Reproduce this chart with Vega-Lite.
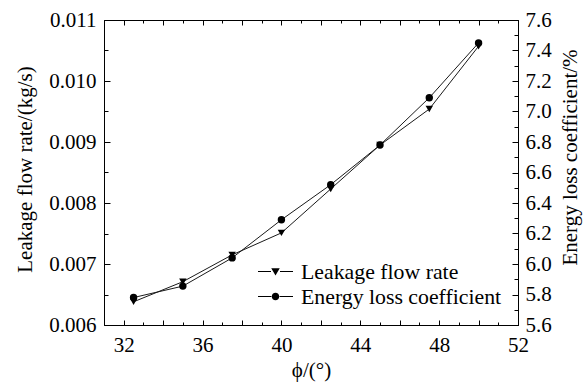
{
  "$schema": "https://vega.github.io/schema/vega-lite/v6.json",
  "width": 414,
  "height": 305,
  "autosize": {"type": "none"},
  "padding": {"left": 104, "top": 20, "right": 66, "bottom": 65},
  "background": "white",
  "config": {
    "view": {"stroke": "black", "strokeWidth": 1},
    "axis": {
      "grid": false,
      "labelFont": "Liberation Serif",
      "titleFont": "Liberation Serif",
      "labelFontSize": 21,
      "titleFontSize": 21,
      "titleFontWeight": "normal",
      "labelColor": "black",
      "titleColor": "black",
      "domainColor": "black",
      "tickColor": "black",
      "domainWidth": 1,
      "tickWidth": 1,
      "labelOverlap": false,
      "labelFlush": false
    }
  },
  "data": {
    "values": [
      {"phi": 32.5, "leakage": 0.00638, "energy": 5.78},
      {"phi": 35.0, "leakage": 0.00671, "energy": 5.855},
      {"phi": 37.5, "leakage": 0.00715, "energy": 6.04},
      {"phi": 40.0, "leakage": 0.00751, "energy": 6.29},
      {"phi": 42.5, "leakage": 0.00823, "energy": 6.52},
      {"phi": 45.0, "leakage": 0.00895, "energy": 6.78},
      {"phi": 47.5, "leakage": 0.00954, "energy": 7.09},
      {"phi": 50.0, "leakage": 0.01057, "energy": 7.45}
    ]
  },
  "layer": [
    {
      "mark": {"type": "line", "color": "#1a1a1a", "strokeWidth": 1},
      "encoding": {
        "x": {
          "field": "phi", "type": "quantitative",
          "scale": {"domain": [31, 52], "nice": false, "zero": false},
          "axis": {
            "orient": "bottom",
            "title": "ϕ/(°)",
            "values": [32,33,34,35,36,37,38,39,40,41,42,43,44,45,46,47,48,49,50,51,52],
            "labelExpr": "datum.value % 4 == 0 ? datum.label : ''",
            "tickSize": {"condition": {"test": "datum.value % 2 == 0", "value": -5}, "value": -3},
            "labelPadding": 14,
            "titlePadding": 2
          }
        },
        "y": {
          "field": "leakage", "type": "quantitative",
          "scale": {"domain": [0.006, 0.011], "nice": false, "zero": false},
          "axis": {
            "orient": "left",
            "title": "Leakage flow rate/(kg/s)",
            "titleY": 149,
            "values": [0.006,0.0065,0.007,0.0075,0.008,0.0085,0.009,0.0095,0.01,0.0105,0.011],
            "labelExpr": "abs(datum.value*1000 - round(datum.value*1000)) < 0.01 ? format(datum.value, '.3f') : ''",
            "tickSize": {"condition": {"test": "abs(datum.value*1000 - round(datum.value*1000)) < 0.01", "value": -6}, "value": -4},
            "labelPadding": 14,
            "titlePadding": 13
          }
        }
      }
    },
    {
      "mark": {"type": "point", "filled": true, "color": "black", "size": 55, "opacity": 1, "shape": "triangle-down"},
      "encoding": {
        "x": {"field": "phi", "type": "quantitative", "scale": {"domain": [31, 52], "nice": false, "zero": false}, "axis": null},
        "y": {"field": "leakage", "type": "quantitative", "scale": {"domain": [0.006, 0.011], "nice": false, "zero": false}, "axis": null}
      }
    },
    {
      "mark": {"type": "point", "filled": true, "color": "black", "size": 10, "opacity": 0},
      "encoding": {
        "x": {"field": "phi", "type": "quantitative", "scale": {"domain": [31, 52], "nice": false, "zero": false}, "axis": null},
        "y": {"field": "leakage", "type": "quantitative", "scale": {"domain": [0.006, 0.011], "nice": false, "zero": false}, "axis": null},
        "shape": {
          "datum": "Leakage flow rate",
          "type": "nominal",
          "scale": {
            "domain": ["Leakage flow rate", "Energy loss coefficient"],
            "range": [
              "M-1.4,-0.04L-0.36,-0.04L-0.36,0.04L-1.4,0.04Z M0.36,-0.04L1.4,-0.04L1.4,0.04L0.36,0.04Z M-0.34,-0.26L0.34,-0.26L0,0.32Z",
              "M-1.4,-0.04L-0.33,-0.04L-0.33,0.04L-1.4,0.04Z M0.33,-0.04L1.4,-0.04L1.4,0.04L0.33,0.04Z M-0.3,0A0.3,0.3,0,1,1,0.3,0A0.3,0.3,0,1,1,-0.3,0Z"
            ]
          },
          "legend": {
            "title": null,
            "orient": "bottom-right",
            "offset": 16,
            "labelFont": "Liberation Serif",
            "labelFontSize": 21.8,
            "labelColor": "black",
            "labelLimit": 400,
            "symbolSize": 625,
            "symbolOpacity": 1,
            "symbolFillColor": "black",
            "symbolStrokeColor": "black",
            "symbolStrokeWidth": 0,
            "labelOffset": 13,
            "rowPadding": 0
          }
        }
      }
    },
    {
      "mark": {"type": "line", "color": "#1a1a1a", "strokeWidth": 1},
      "encoding": {
        "x": {
          "field": "phi", "type": "quantitative",
          "scale": {"domain": [31, 52], "nice": false, "zero": false},
          "axis": {
            "orient": "top",
            "title": null,
            "labels": false,
            "values": [32,33,34,35,36,37,38,39,40,41,42,43,44,45,46,47,48,49,50,51,52],
            "tickSize": {"condition": {"test": "datum.value % 2 == 0", "value": -5}, "value": -3}
          }
        },
        "y": {
          "field": "energy", "type": "quantitative",
          "scale": {"domain": [5.6, 7.6], "nice": false, "zero": false},
          "axis": {
            "orient": "right",
            "title": "Energy loss coefficient/%",
            "titleAngle": 270,
            "titleY": 137,
            "values": [5.6,5.7,5.8,5.9,6.0,6.1,6.2,6.3,6.4,6.5,6.6,6.7,6.8,6.9,7.0,7.1,7.2,7.3,7.4,7.5,7.6],
            "labelExpr": "abs(datum.value*5 - round(datum.value*5)) < 0.01 ? format(datum.value, '.1f') : ''",
            "tickSize": {"condition": {"test": "abs(datum.value*5 - round(datum.value*5)) < 0.01", "value": -6}, "value": -4},
            "labelPadding": 13,
            "titlePadding": 29
          }
        }
      }
    },
    {
      "mark": {"type": "point", "filled": true, "color": "black", "size": 55, "opacity": 1, "shape": "circle"},
      "encoding": {
        "x": {"field": "phi", "type": "quantitative", "scale": {"domain": [31, 52], "nice": false, "zero": false}, "axis": null},
        "y": {"field": "energy", "type": "quantitative", "scale": {"domain": [5.6, 7.6], "nice": false, "zero": false}, "axis": null}
      }
    },
    {
      "mark": {"type": "point", "filled": true, "color": "black", "size": 10, "opacity": 0},
      "encoding": {
        "x": {"field": "phi", "type": "quantitative", "scale": {"domain": [31, 52], "nice": false, "zero": false}, "axis": null},
        "y": {"field": "energy", "type": "quantitative", "scale": {"domain": [5.6, 7.6], "nice": false, "zero": false}, "axis": null},
        "shape": {
          "datum": "Energy loss coefficient",
          "type": "nominal",
          "legend": null
        }
      }
    }
  ],
  "resolve": {
    "scale": {"y": "independent"},
    "axis": {"x": "independent", "y": "independent"}
  }
}
